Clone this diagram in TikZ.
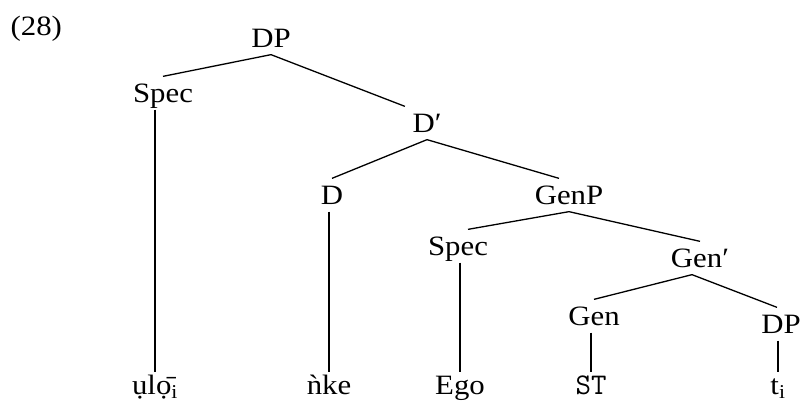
\documentclass[tikz,border=0pt]{standalone}
\usepackage{fontspec}
\setmainfont[FakeStretch=1.1]{Liberation Serif}
\usepackage{tikz}

\begin{document}
\begin{tikzpicture}[y=-1pt,x=1pt,line width=1.3pt,
	cat/.style={anchor=base,inner sep=7pt,text height=18pt,text depth=0pt,font=\fontsize{28}{30}\selectfont},
	word/.style={cat,inner sep=3pt}]
	\useasboundingbox (0,0) rectangle (803,407);

	\node[cat,anchor=base west,inner sep=0pt] (ex) at (10,35) {(28)};

	% categories
	\node[cat] (dp) at (271,47) {DP};
	\node[cat] (spec) at (163,102) {Spec};
	\node[cat] (dbar) at (427,132) {D′};
	\node[cat] (d) at (332,204) {D};
	\node[cat] (genp) at (569,204) {GenP};
	\node[cat] (spectwo) at (458,255) {Spec};
	\node[cat] (genbar) at (700,267) {Gen′};
	\node[cat] (gen) at (594,325) {Gen};
	\node[cat] (dptwo) at (781,333) {DP};

	% terminals
	\node[word] (ulo) at (155,394) {ụl\d{ō}\textsubscript{i}};
	\node[word] (nke) at (329,394) {ǹke};
	\node[word] (ego) at (460,394) {Ego};
	\node[word,font=\fontsize{30}{32}\selectfont\ttfamily] (st) at (591,394) {ST};
	\node[word] (trace) at (778,394) {t\textsubscript{i}};

	\draw (dp.south) -- (spec.north);
	\draw (dp.south) -- (dbar.north west);
	\draw (dbar.south) -- (d.north);
	\draw (dbar.south) -- ([xshift=-10pt]genp.north);
	\draw (genp.south) -- ([xshift=10pt]spectwo.north);
	\draw (genp.south) -- (genbar.north);
	\draw ([xshift=-8pt]genbar.south) -- (gen.north);
	\draw ([xshift=-8pt]genbar.south) -- ([xshift=-4pt]dptwo.north);

	\draw (ulo.north |- spec.south) -- (ulo.north);
	\draw (nke.north |- d.south) -- (nke.north);
	\draw (ego.north |- spectwo.south) -- (ego.north);
	\draw (st.north |- gen.south) -- (st.north);
	\draw (trace.north |- dptwo.south) -- (trace.north);
\end{tikzpicture}
\end{document}
